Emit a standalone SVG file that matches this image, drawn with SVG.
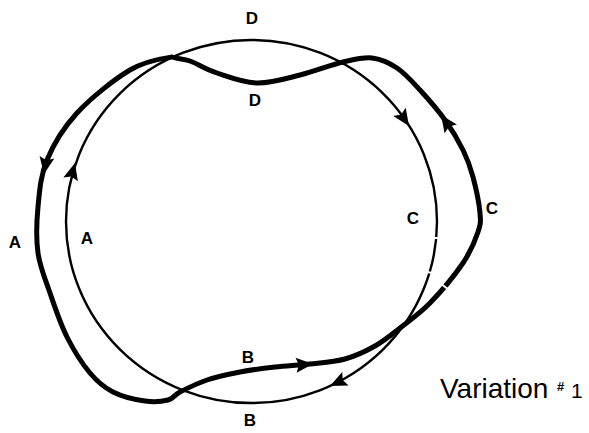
<svg xmlns="http://www.w3.org/2000/svg" width="589" height="433" viewBox="0 0 589 433">
<style>
.thin{fill:none;stroke:#000;stroke-width:2.4}
.thick{fill:none;stroke:#000;stroke-width:5;stroke-linejoin:round;stroke-linecap:round}
.gap{stroke:#fff;stroke-width:2}
.lbl{font-family:"Liberation Sans",Arial,sans-serif;font-size:17px;font-weight:bold;fill:#000;text-anchor:middle}
.cap{font-family:"Liberation Sans",Arial,sans-serif;fill:#000}
</style>
<defs>
<path id="ah" d="M0,0 L-17,-7.5 L-14,0 L-17,7.5 Z" fill="#000"/>
</defs>
<rect width="589" height="433" fill="#fff"/>
<g id="connectors">
<g id="thin-loop">
<ellipse class="thin" cx="251.5" cy="221.5" rx="185.5" ry="181.5"/>
<line class="gap" x1="429" y1="238" x2="438" y2="238"/>
<line class="gap" x1="423" y1="271" x2="432" y2="273"/>
<use href="#ah" transform="translate(75,163) rotate(-75)"/>
<use href="#ah" transform="translate(409,126) rotate(56)"/>
<use href="#ah" transform="translate(330,386) rotate(155)"/>
</g>
<g id="thick-loop">
<path class="thick" d="M172,57 C162,58.5 145.8,60.7 130,70 C114.2,79.3 90.8,98 77,113 C63.2,128 53.5,144.3 47,160 C40.5,175.7 39.5,191.5 38,207 C36.5,222.5 36,238.7 38,253 C40,267.3 45.2,279 50,293 C54.8,307 60.3,323.7 67,337 C73.7,350.3 82.3,363.8 90,373 C97.7,382.2 103.8,387.3 113,392 C122.2,396.7 135.8,399.7 145,401 C154.2,402.3 162.2,401.5 168,400 C173.8,398.5 173.5,395.3 180,392 C186.5,388.7 197,383.3 207,380 C217,376.7 228.7,374.2 240,372 C251.3,369.8 263.3,368.3 275,367 C286.7,365.7 298.3,365.3 310,364 C321.7,362.7 334.2,362 345,359 C355.8,356 365.8,351.2 375,346 C384.2,340.8 390.8,335.2 400,328 C409.2,320.8 419.5,313.8 430,303 C440.5,292.2 455,274.8 463,263 C471,251.2 475.2,240.3 478,232 C480.8,223.7 480.8,222.2 480,213 C479.2,203.8 475.8,187.5 473,177 C470.2,166.5 467.7,159.5 463,150 C458.3,140.5 452.2,130 445,120 C437.8,110 428,98.7 420,90 C412,81.3 405,73.3 397,68 C389,62.7 381,59 372,58 C363,57 355,59.3 343,62 C331,64.7 316,71 300,75 C286,78.5 272,83 258,83 C244,83 229,77 217,73 C205.3,69.3 197.5,63.7 190,61 C182.5,58.3 179.5,59.7 172,57 Z"/>
<line class="gap" x1="440" y1="283" x2="449" y2="290"/>
<use href="#ah" transform="translate(44,174) rotate(100)"/>
<use href="#ah" transform="translate(441,115) rotate(-125)"/>
<use href="#ah" transform="translate(313,364) rotate(-4)"/>
</g>
</g>
<g id="labels">
<text class="lbl" x="252" y="24">D</text>
<text class="lbl" x="255" y="106">D</text>
<text class="lbl" x="15" y="248">A</text>
<text class="lbl" x="87" y="244">A</text>
<text class="lbl" x="413" y="224">C</text>
<text class="lbl" x="492" y="214">C</text>
<text class="lbl" x="248" y="363">B</text>
<text class="lbl" x="250" y="426">B</text>
<text class="cap" x="440" y="398" font-size="28">Variation</text>
<text class="cap" x="557" y="391" font-size="13" font-weight="bold">#</text>
<text class="cap" x="571" y="398" font-size="21">1</text>
</g>
</svg>
